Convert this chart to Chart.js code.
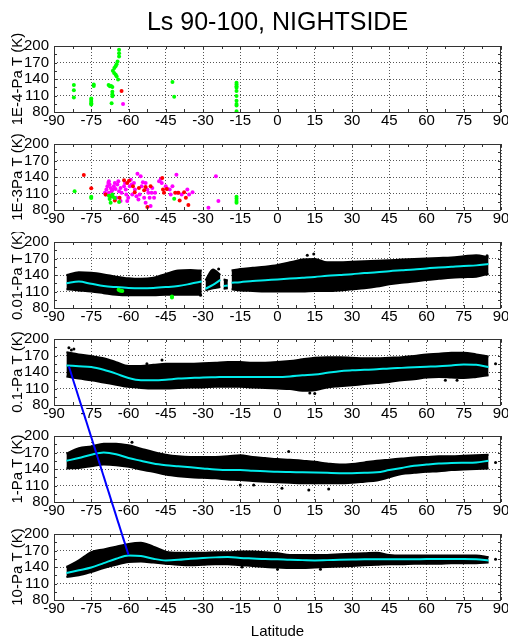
<!DOCTYPE html>
<html>
<head>
<meta charset="utf-8">
<script src="https://cdn.jsdelivr.net/npm/chart.js@4/dist/chart.umd.min.js"></script>
<style>
  body { margin: 0; background: #fff; }
  #wrap { position: relative; width: 508px; height: 641px; overflow: hidden; }
  #wrap canvas { position: absolute; left: 0; }
</style>
</head>
<body>
<div id="wrap"></div>
<script>
const X_TICKS = [-90, -75, -60, -45, -30, -15, 0, 15, 30, 45, 60, 75, 90];
const Y_TICKS = [80, 110, 140, 170, 200];
const PANEL_LABELS = ['1E-4-Pa T (K)', '1E-3Pa T (K)', '0.01-Pa T (K)', '0.1-Pa T (K)', '1-Pa T (K)', '10-Pa T (K)'];

// 1E-4 Pa: scattered retrievals
const E4_GREEN = [[-82, 129], [-82, 119.5], [-82, 106.4], [-75, 104.7], [-75, 101.7], [-75, 98.7], [-75, 95.7], [-75, 93.6],
  [-74, 130.2], [-74, 127.2], [-68, 129], [-67.5, 126.6], [-67, 127.5], [-66.5, 125.4], [-66.5, 117], [-66.5, 112.4],
  [-66.5, 108.8], [-66.8, 95.7], [-66.3, 155], [-65.8, 151], [-65.7, 160], [-65.2, 163], [-65.2, 148], [-64.8, 167],
  [-64.8, 145], [-64.4, 172], [-64.2, 139], [-63.8, 193], [-63.8, 187], [-63.8, 181], [-42.3, 134.4], [-41.6, 107.6],
  [-16.5, 133], [-16.5, 130], [-16.5, 127], [-16.5, 124], [-16.5, 118], [-16.5, 109], [-16.5, 100.5], [-16.5, 94.6],
  [-16.5, 91.6], [-16.5, 81.5]];
const E4_RED = [[-62.8, 118.3]];
const E4_MAGENTA = [[-62.2, 94.6]];

// 1E-3 Pa
const E3_GREEN = [[-81.7, 114.2], [-75, 104], [-75, 101.6], [-67.9, 106], [-67.6, 100], [-67.2, 93], [-66.5, 108],
  [-66.3, 104], [-65.5, 102], [-63.8, 94.4], [-41.6, 100.4], [-16.5, 104], [-16.5, 100.4], [-16.5, 96.2], [-16.5, 93.2]];
const E3_RED = [[-78, 143.6], [-75, 119.6], [-69.2, 108.2], [-67.2, 105.2], [-65.5, 97.4], [-63.6, 102.2], [-61.8, 134],
  [-60.5, 129.2], [-59.8, 133.4], [-58.2, 123.2], [-57.5, 112.4], [-55.8, 120.2], [-53.7, 116], [-53.1, 122],
  [-51.1, 123.2], [-52.4, 85.4], [-46.4, 138.2], [-46.1, 117.2], [-45.7, 111.2], [-44.6, 118.4], [-41.2, 111.2],
  [-39.9, 111.2], [-39.4, 97.4], [-37.6, 112.4], [-36.9, 102.2], [-35.9, 89]];
const E3_MAGENTA = [[-69.5, 111.2], [-68.9, 117.2], [-68.5, 123.2], [-68.1, 129.2], [-67.9, 132.2], [-67.6, 126.2],
  [-67.2, 120.2], [-66.8, 114.2], [-69.2, 108.2], [-67.9, 111.2], [-66.5, 117.2], [-65.9, 123.2], [-65.5, 129.2],
  [-65.2, 118.4], [-64.5, 126.2], [-64.1, 132.2], [-63.8, 114.2], [-63.2, 120.2], [-62.8, 111.2], [-64.9, 102.2],
  [-63.2, 96.2], [-61.8, 123.2], [-61.4, 129.2], [-61.1, 117.2], [-60.9, 108.2], [-60.1, 102.2], [-59.5, 123.2],
  [-59.1, 135.2], [-58.7, 126.2], [-60.5, 96.2], [-57.8, 129.2], [-57.4, 117.2], [-56.8, 105.2], [-56.4, 146],
  [-56, 99.2], [-55.5, 108.2], [-55.1, 141.2], [-54.7, 123.2], [-54.2, 130.4], [-58.5, 108.2], [-53.7, 102.2],
  [-53.1, 129.2], [-52.4, 117.2], [-52, 111.2], [-51.5, 102.2], [-50.7, 111.2], [-50.4, 120.2], [-49.7, 102.2],
  [-49.3, 111.2], [-51.1, 87.2], [-53.1, 93.2], [-47.7, 132.2], [-47, 136.4], [-46.6, 129.2], [-45, 123.2],
  [-44.3, 118.4], [-43.4, 117.2], [-43, 108.2], [-42.3, 123.2], [-40.7, 144.2], [-40.3, 111.2], [-38.6, 108.2],
  [-36.3, 117.2], [-35.6, 108.2], [-34.2, 112.4], [-27.8, 84.2], [-24.8, 141.2], [-23.8, 96.2]];

// 0.01 Pa: cloud envelope (low / high) and mean, gaps as null
const LAT_001 = [-85, -80, -75, -70, -65, -60, -55, -50, -45, -40, -35, -30.5, -29.8, -29, -26, -23, -22.3, -21.7, -20,
  -19.3, -18.5, -15, -10, -5, 0, 5, 10, 15, 20, 25, 30, 35, 40, 45, 50, 55, 60, 65, 70, 75, 80, 85];
const T001_MEAN = [125, 128, 124, 120, 118, 116.5, 116, 116.5, 118, 120, 124, 128, null, 115, 122, 131, null, 120, 121,
  null, 126, 127, 129, 130.5, 132, 133.5, 135, 136.5, 138.5, 140, 141.5, 143.5, 145, 147, 148.5, 150, 152, 153.5, 155,
  156.5, 157.5, 160];
const T001_HIGH = [140, 145, 144, 141, 137, 134, 133, 135, 142, 148, 149, 148, null, 130, 150, 140, null, 132, 130,
  null, 148, 151, 153, 155, 158, 163, 168, 169, 163, 163, 164, 165, 166, 167, 168, 169, 170, 171, 172, 174, 176, 172];
const T001_LOW = [114, 112, 110, 107, 104, 103, 103, 103, 104, 104, 104, 104, null, 112, 116, 118, null, 115, 116,
  null, 114, 112, 111, 110, 110, 110, 110, 111, 111, 112, 114, 116, 119, 123, 126, 128, 131, 133, 135, 136, 137, 142];
const E2_GREEN = [[-64, 113], [-63.5, 112], [-63, 111.5], [-62.5, 111], [-42.5, 101], [-42.5, 99]];
const OUT_001 = [[14.6, 178], [12, 176], [84.4, 175], [-31, 103], [-23.7, 151]];

// 0.1, 1 and 10 Pa share the same latitude grid
const LAT = [-85, -80, -75, -70, -65, -60, -55, -50, -45, -40, -35, -30, -25, -20, -15, -10, -5, 0, 5, 10, 15, 20, 25,
  30, 35, 40, 45, 50, 55, 60, 65, 70, 75, 80, 85];
const T01_MEAN = [152, 150.5, 149, 144, 137, 129, 125, 125, 126, 128, 129, 130, 130.5, 131, 131, 131, 131, 131, 132,
  134, 135.5, 138.5, 141.5, 143, 144, 145, 146.5, 147.5, 148.5, 149.5, 150.5, 152, 153.5, 153, 149];
const T01_HIGH = [176, 172, 169, 165, 158, 151, 151, 153, 155, 155, 155, 156, 157, 158, 158, 157, 157, 158, 160, 163,
  166, 167, 167, 166, 165, 165, 166, 167, 169, 172, 173, 175, 175, 172, 168];
const T01_LOW = [132, 128, 125, 121, 117, 113, 111, 110, 110, 111, 112, 112, 113, 113, 113, 112, 111, 110, 109, 106,
  107, 112, 114, 116, 118, 120, 122, 125, 127, 130, 131, 130, 129, 131, 134];
const OUT_01 = [[-84, 184], [-82, 182], [-83, 180], [-46.5, 162], [-52.6, 155], [87.8, 155], [67.6, 125], [72.3, 125],
  [13, 102], [15, 101]];

const T1_MEAN = [155, 160, 166, 170, 167, 160, 155, 150, 147, 145, 143, 141, 139, 138, 138, 137, 136, 135, 134.5, 134,
  133.5, 133, 132.5, 132.5, 133, 134, 138, 142, 146, 148, 150, 151, 151.5, 152, 155];
const T1_HIGH = [168, 178, 181, 186, 186, 183, 177, 171, 166, 163, 162, 162, 162, 163, 165, 162, 160, 158, 157, 155,
  153, 150, 148, 149, 152, 155, 157, 159, 161, 162, 163, 163, 164, 165, 166];
const T1_LOW = [141, 142, 145, 148, 147, 144, 139, 135, 130, 127, 125, 124, 123, 121, 120, 118, 117, 116, 115, 114,
  114, 114, 114, 115, 117, 119, 125, 131, 133, 135, 136, 138, 139, 140, 141];
const OUT_1 = [[4.5, 172], [-58.6, 188.5], [-15, 111], [-9.6, 111], [1.8, 105], [12.6, 102], [20.6, 103.5], [87.8, 151.7]];

const T10_MEAN = [129, 134, 139, 147, 155, 161, 160, 155, 152, 153, 155, 156.5, 157.5, 158, 156.5, 155.5, 154.5, 154,
  153, 152.5, 152, 152.5, 153, 153.5, 154, 154, 154, 154, 154, 154.5, 154.5, 154.5, 154.5, 154, 152];
const T10_HIGH = [140, 152, 167, 172, 177, 182, 184, 177, 168, 166, 166, 166, 167, 167, 168, 168, 167, 165, 162, 162,
  162, 162, 163, 164, 165, 166, 162, 161, 161, 161, 161, 161, 161, 161, 158];
const T10_LOW = [122, 125, 131, 138, 144, 149, 150, 148, 146, 144, 143, 144, 145, 145, 143, 142, 140, 139, 138, 138,
  139, 140, 141, 142, 143, 144, 145, 145, 146, 146, 146, 147, 147, 147, 148];
const OUT_10 = [[-14.3, 140.1], [0, 136], [17.3, 136], [87.8, 154]];

// blue connector: 0.1-Pa panel (index 3) to 10-Pa panel (index 5)
const BLUE_LAT = [-84, -60];
const BLUE_T = [150, 162];
const BLUE_PANEL = [3, 5];

const CANVAS_TOP = [0, 134, 232, 329, 426, 524];
const CANVAS_H = [136, 100, 100, 100, 100, 117];

const CYAN = 'rgb(0, 235, 235)';
const FONT = '"Liberation Sans", Arial, sans-serif';
Chart.defaults.font.family = FONT;
Chart.defaults.color = '#000';

const pts = arr => arr.map(([x, y]) => ({ x, y }));
const series = (lats, vals) => lats.map((x, i) => ({ x, y: vals[i] }));

function dots(arr, color, order, r = 2) {
  return { data: pts(arr), showLine: false, backgroundColor: color, borderColor: color,
    pointRadius: r, pointBorderWidth: 0, order };
}

function cloud(lats, low, mean, high, outliers) {
  const edge = { showLine: true, borderColor: '#000', backgroundColor: '#000', borderWidth: 2, pointRadius: 0,
    cubicInterpolationMode: 'monotone', order: 5 };
  return [
    { data: series(lats, mean), showLine: true, borderColor: CYAN, borderWidth: 2, pointRadius: 0,
      cubicInterpolationMode: 'monotone', fill: false, order: 0 },
    dots(outliers, '#000', 3, 1.5),
    { ...edge, data: series(lats, high), fill: '+1' },
    { ...edge, data: series(lats, low), fill: false },
  ];
}

const PANEL_SETS = [
  [dots(E4_RED, '#ff0000', 1), dots(E4_MAGENTA, '#ff00ff', 1), dots(E4_GREEN, '#00ff00', 2)],
  [dots(E3_GREEN, '#00ff00', 1), dots(E3_RED, '#ff0000', 2), dots(E3_MAGENTA, '#ff00ff', 3)],
  [dots(E2_GREEN, '#00ff00', 0), ...cloud(LAT_001, T001_LOW, T001_MEAN, T001_HIGH, OUT_001)],
  cloud(LAT, T01_LOW, T01_MEAN, T01_HIGH, OUT_01),
  cloud(LAT, T1_LOW, T1_MEAN, T1_HIGH, OUT_1),
  cloud(LAT, T10_LOW, T10_MEAN, T10_HIGH, OUT_10),
];

// box with inward tick marks, like the original axes
const frame = {
  id: 'frame',
  afterDatasetsDraw(chart) {
    const { ctx, chartArea: a, scales: { x, y } } = chart;
    ctx.save();
    ctx.strokeStyle = '#333';
    ctx.lineWidth = 1;
    ctx.beginPath();
    X_TICKS.forEach((v, i) => {
      const vals = i < X_TICKS.length - 1 ? [v, (v + X_TICKS[i + 1]) / 2] : [v];
      vals.forEach(val => {
        const px = Math.round(x.getPixelForValue(val)) + 0.5;
        ctx.moveTo(px, a.top); ctx.lineTo(px, a.top + 3);
        ctx.moveTo(px, a.bottom); ctx.lineTo(px, a.bottom - 3);
      });
    });
    Y_TICKS.forEach((v, i) => {
      const vals = i < Y_TICKS.length - 1 ? [v, (v + Y_TICKS[i + 1]) / 2] : [v];
      vals.forEach(val => {
        const py = Math.round(y.getPixelForValue(val)) + 0.5;
        ctx.moveTo(a.left, py); ctx.lineTo(a.left + 3, py);
        ctx.moveTo(a.right, py); ctx.lineTo(a.right - 3, py);
      });
    });
    ctx.stroke();
    ctx.strokeRect(Math.round(a.left) + 0.5, Math.round(a.top) + 0.5, Math.round(a.width) - 1, Math.round(a.height));
    ctx.restore();
  }
};

const wrap = document.getElementById('wrap');
const charts = PANEL_SETS.map((sets, idx) => {
  const last = idx === PANEL_SETS.length - 1;
  const canvas = document.createElement('canvas');
  canvas.width = 508;
  canvas.height = CANVAS_H[idx];
  canvas.style.top = CANVAS_TOP[idx] + 'px';
  wrap.appendChild(canvas);

  return new Chart(canvas, {
    type: 'line',
    data: { datasets: sets },
    plugins: [frame],
    options: {
      responsive: false,
      animation: false,
      events: [],
      layout: { padding: { top: idx === 0 ? 0 : 10, right: 7, left: 0, bottom: 0 } },
      scales: {
        x: {
          type: 'linear', min: -90, max: 90,
          afterBuildTicks: s => { s.ticks = X_TICKS.map(v => ({ value: v })); },
          afterFit: s => { s.height = last ? 41 : 24; s.paddingLeft = 0; s.paddingRight = 0; },
          ticks: { font: { size: 15, lineHeight: 1 }, padding: 1, maxRotation: 0, minRotation: 0, autoSkip: false },
          grid: { color: '#555', drawTicks: false },
          border: { display: false, dash: [1, 2] },
          title: {
            display: last, text: 'Latitude', color: '#000',
            font: { size: 15 },
            padding: { top: 0, bottom: 0 }
          }
        },
        y: {
          min: 80, max: 200,
          afterBuildTicks: s => { s.ticks = Y_TICKS.map(v => ({ value: v })); },
          afterFit: s => { s.width = 54; s.paddingTop = 0; s.paddingBottom = 0; },
          ticks: { font: { size: 15 }, padding: 5, autoSkip: false },
          grid: { color: '#555', drawTicks: false },
          border: { display: false, dash: [1, 2] },
          title: {
            display: true, text: PANEL_LABELS[idx], color: '#000',
            font: { size: 15 },
            padding: { top: 9, bottom: 0 }
          }
        }
      },
      plugins: {
        legend: { display: false },
        tooltip: { enabled: false },
        title: {
          display: idx === 0, text: 'Ls 90-100, NIGHTSIDE', fullSize: false, color: '#000',
          font: { size: 25, weight: 'normal' },
          padding: { top: 8, bottom: 8 }
        }
      }
    }
  });
});

// overlay for the connector that crosses panels; its y axis is page pixels
const overlay = document.createElement('canvas');
overlay.width = 508;
overlay.height = 641;
overlay.style.top = '0px';
overlay.style.pointerEvents = 'none';
wrap.appendChild(overlay);

new Chart(overlay, {
  type: 'line',
  data: {
    datasets: [{
      data: BLUE_LAT.map((lat, i) => ({
        x: lat,
        y: CANVAS_TOP[BLUE_PANEL[i]] + charts[BLUE_PANEL[i]].scales.y.getPixelForValue(BLUE_T[i])
      })),
      borderColor: '#0000ff', borderWidth: 2, pointRadius: 0
    }]
  },
  options: {
    responsive: false,
    animation: false,
    events: [],
    layout: { padding: { left: 54, right: 7, top: 0, bottom: 0 } },
    scales: {
      x: { type: 'linear', min: -90, max: 90, display: false },
      y: { type: 'linear', min: 0, max: 641, reverse: true, display: false }
    },
    plugins: { legend: { display: false }, tooltip: { enabled: false } }
  }
});
</script>
</body>
</html>
